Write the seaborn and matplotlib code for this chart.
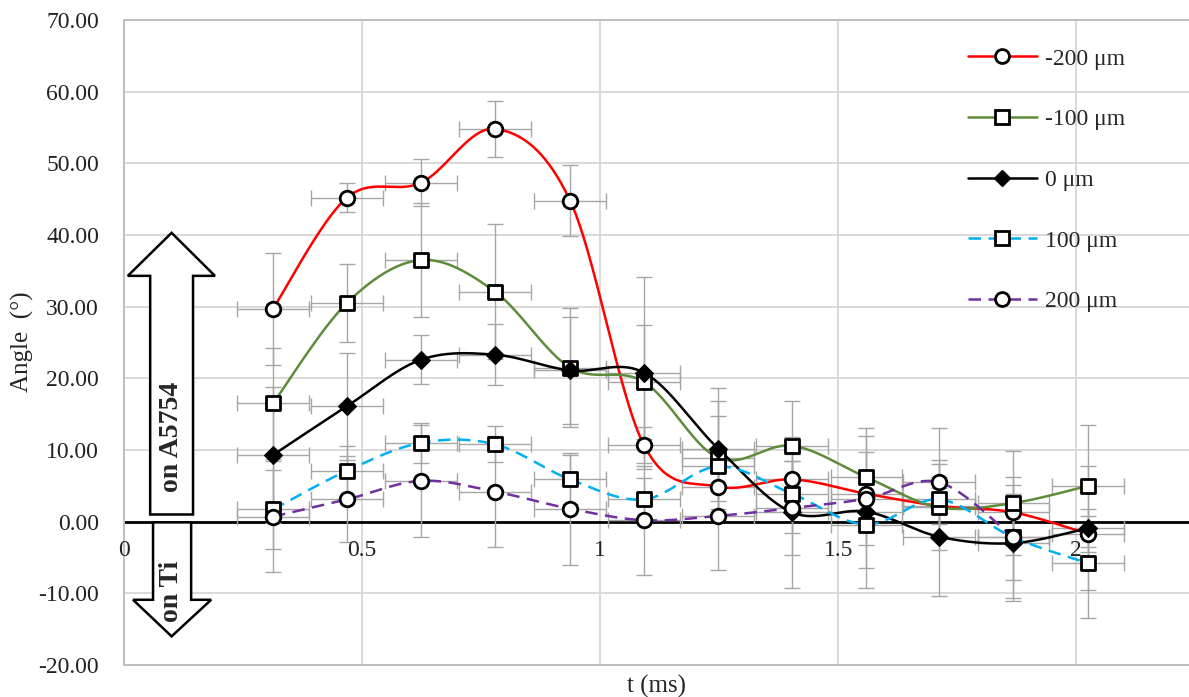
import numpy as np
import pandas as pd
import matplotlib
matplotlib.use("Agg")
import matplotlib.pyplot as plt
import seaborn as sns
from matplotlib.lines import Line2D
from matplotlib.patches import Polygon

# time of each measurement (ms)
t_ms = [0.313, 0.468, 0.624, 0.779, 0.937, 1.092, 1.248, 1.403, 1.559, 1.712, 1.868, 2.025]

# angle (deg) per offset
ang_m200 = [29.7, 45.2, 47.3, 54.8, 44.8, 10.7, 4.9, 5.9, 3.9, 2.2, 1.3, -1.7]
ang_m100 = [16.5, 30.5, 36.5, 32.1, 21.5, 19.5, 8.9, 10.6, 6.2, 2.0, 2.6, 5.0]
ang_0 = [9.3, 16.1, 22.6, 23.3, 21.1, 20.8, 10.2, 1.3, 1.4, -2.1, -3.0, -0.9]
ang_100 = [1.7, 7.1, 11.0, 10.8, 5.9, 3.1, 7.7, 3.9, -0.4, 3.1, -2.2, -5.8]
ang_200 = [0.7, 3.1, 5.7, 4.2, 1.8, 0.2, 0.8, 1.9, 3.2, 5.5, -2.2]

# error bars (deg), symmetric
err_m200 = [7.8, 2.0, 3.3, 3.9, 5.0, 2.5, 2.0, 2.5, 2.5, 2.5, 2.5, 2.5]
err_m100 = [7.7, 5.5, 8.0, 9.4, 8.3, 8.0, 8.0, 6.3, 6.9, 6.0, 7.3, 8.5]
err_0 = [9.5, 7.5, 3.4, 4.3, 7.5, 13.4, 8.5, 10.5, 10.6, 8.3, 8.1, 8.6]
err_100 = [5.5, 3.5, 2.8, 2.5, 3.4, 3.0, 7.0, 5.5, 6.0, 5.5, 6.0, 7.6]
err_200 = [7.7, 6.0, 7.8, 7.8, 7.8, 7.6, 7.5, 6.5, 6.5, 7.5, 8.5]
t_err = 0.075

labels = ["-200 \u03bcm", "-100 \u03bcm", "0 \u03bcm", "100 \u03bcm", "200 \u03bcm"]
values = [ang_m200, ang_m100, ang_0, ang_100, ang_200]
errors = [err_m200, err_m100, err_0, err_100, err_200]
colors = ["#FF0000", "#5E8C3A", "#000000", "#00B0F0", "#7030A0"]
markers = ["o", "s", "D", "s", "o"]
dashed = [False, False, False, True, True]


def excel_smooth(x, y, n=40):
    """Excel-like smoothed line (Catmull-Rom as cubic Bezier)."""
    pts = np.column_stack([x, y]).astype(float)
    P = np.vstack([pts[0], pts, pts[-1]])
    t = np.linspace(0, 1, n)[:, None]
    out = []
    for i in range(1, len(P) - 2):
        p0, p1, p2, p3 = P[i - 1], P[i], P[i + 1], P[i + 2]
        c1 = p1 + (p2 - p0) / 6
        c2 = p2 - (p3 - p1) / 6
        seg = (1 - t) ** 3 * p1 + 3 * (1 - t) ** 2 * t * c1 + 3 * (1 - t) * t ** 2 * c2 + t ** 3 * p2
        out.append(seg if i == 1 else seg[1:])
    return np.vstack(out)


sns.set_style("white")
plt.rcParams["font.family"] = ["Liberation Serif", "DejaVu Serif"]
plt.rcParams["font.size"] = 17

fig = plt.figure(figsize=(11.89, 6.97), dpi=100)
ax = fig.add_axes([124 / 1189, 32 / 697, 1065 / 1189, 645 / 697])

ax.set_xlim(0, 2.237)
ax.set_ylim(-20, 70)
ax.set_yticks(np.arange(-20, 71, 10))
ax.set_yticklabels([f"{v:.2f}" for v in np.arange(-20, 71, 10)])
ax.set_xticks([0.5, 1.0, 1.5, 2.0])
ax.set_xticklabels([])
ax.tick_params(axis="both", length=0)
ax.tick_params(axis="y", pad=18, labelsize=17, colors="#222222")
ax.grid(True, color="#D9D9D9", linewidth=1.4)
ax.set_axisbelow(True)
for side in ["top", "bottom", "left"]:
    ax.spines[side].set_color("#BFBFBF")
    ax.spines[side].set_linewidth(1.4)
ax.spines["right"].set_visible(False)

ax.axhline(0, color="black", linewidth=2.0, zorder=2)

# error bars
for vals, errs in zip(values, errors):
    tt = t_ms[:len(vals)]
    ax.errorbar(tt, vals, yerr=errs, xerr=t_err, fmt="none", ecolor="#A6A6A6",
                elinewidth=1.0, capsize=6, capthick=1.0, zorder=3)

# smooth lines + markers
for lab, vals, col, mk, dsh in zip(labels, values, colors, markers, dashed):
    tt = t_ms[:len(vals)]
    sm = excel_smooth(tt, vals)
    df = pd.DataFrame({"t": sm[:, 0], "a": sm[:, 1]})
    ls = (0, (5, 3)) if dsh else "-"
    sns.lineplot(data=df, x="t", y="a", color=col, linewidth=1.8, ax=ax,
                 sort=False, estimator=None, linestyle=ls, zorder=4)
    pts = pd.DataFrame({"t": tt, "a": vals})
    if mk == "D":
        sns.scatterplot(data=pts, x="t", y="a", marker="D", s=80, color="black",
                        edgecolor="black", linewidth=1.0, ax=ax, zorder=5)
    else:
        sns.scatterplot(data=pts, x="t", y="a", marker=mk, s=110, color="white",
                        edgecolor="black", linewidth=2.0, ax=ax, zorder=5)

ax.set_xlabel("")
ax.set_ylabel("")

# x tick labels sitting under the zero line
for xv, xs in zip([0, 0.5, 1.0, 1.5, 2.0], ["0", "0.5", "1", "1.5", "2"]):
    ax.text(xv, -2.5, xs, ha="center", va="top", fontsize=17, color="#222222", zorder=3)

fig.text((124 + 1189) / 2 / 1189, 1 - 686 / 697, "t (ms)", ha="center", va="center", fontsize=18)
fig.text(22 / 1189, 1 - 342 / 697, "Angle  (\u00b0)", ha="center", va="center",
         rotation=90, fontsize=18)

# direction arrows
up = Polygon([[0.055, 1.0], [0.055, 34.3], [0.008, 34.3], [0.100, 40.3],
              [0.191, 34.3], [0.145, 34.3], [0.145, 1.0]], closed=True,
             facecolor="white", edgecolor="black", linewidth=1.8, zorder=6, clip_on=False)
down = Polygon([[0.061, -0.1], [0.061, -10.9], [0.019, -10.9], [0.100, -16.0],
                [0.183, -10.9], [0.141, -10.9], [0.141, -0.1]], closed=True,
               facecolor="white", edgecolor="black", linewidth=1.8, zorder=6, clip_on=False)
ax.add_patch(up)
ax.add_patch(down)
ax.text(0.100, 11.9, "on A5754", rotation=90, ha="center", va="center",
        fontsize=20, fontweight="bold", zorder=7)
ax.text(0.100, -9.7, "on Ti", rotation=90, ha="center", va="center",
        fontsize=20, fontweight="bold", zorder=7)

# legend
handles = []
for lab, col, mk, dsh in zip(labels, colors, markers, dashed):
    if mk == "D":
        h = Line2D([], [], color=col, linewidth=1.8, marker="D", markersize=8,
                   markerfacecolor="black", markeredgecolor="black")
    else:
        h = Line2D([], [], color=col, linewidth=1.8, marker=mk, markersize=10,
                   markerfacecolor="white", markeredgecolor="black", markeredgewidth=2.0,
                   linestyle=(0, (5, 3)) if dsh else "-")
    handles.append(h)
ax.legend(handles, labels, loc="upper left", bbox_to_anchor=((968 - 124) / 1065, (665 - 48) / 645),
          frameon=False, fontsize=17, handlelength=2.92, handletextpad=0.35,
          labelspacing=1.66, borderpad=0, borderaxespad=0)

fig.savefig("out.png", dpi=100)
